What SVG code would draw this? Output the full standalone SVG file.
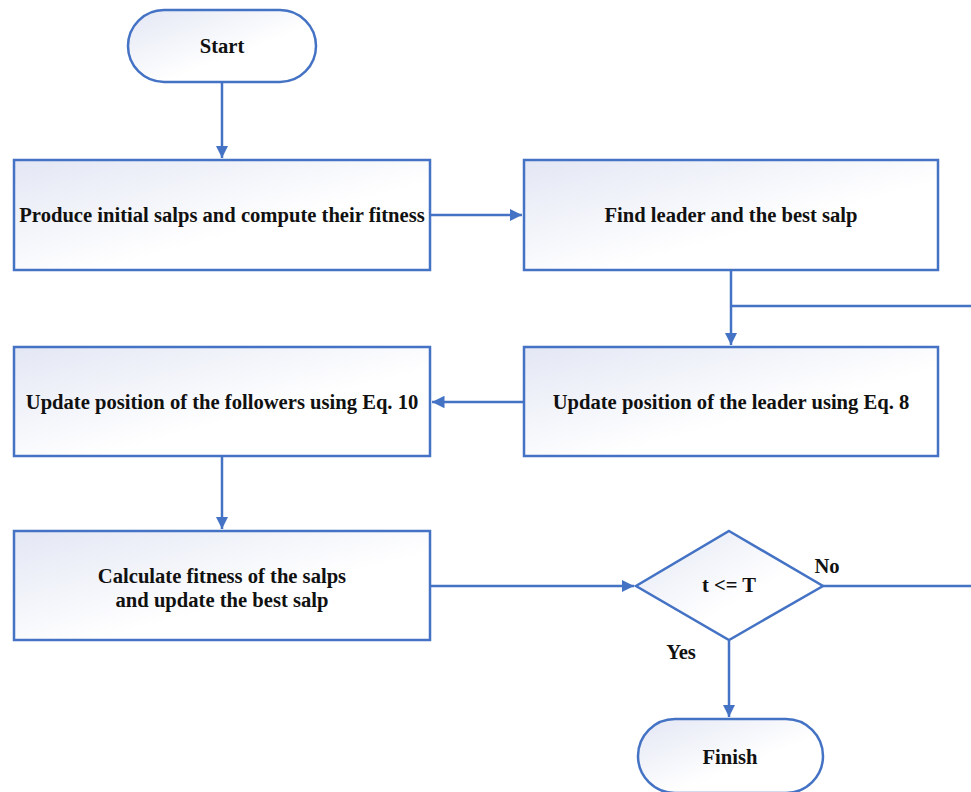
<svg xmlns="http://www.w3.org/2000/svg" width="971" height="792" viewBox="0 0 971 792">
<defs>
<linearGradient id="g" x1="0" y1="0" x2="1" y2="1">
<stop offset="0" stop-color="#e3e7f4"/>
<stop offset="0.6" stop-color="#ffffff"/>
<stop offset="1" stop-color="#ffffff"/>
</linearGradient>
<marker id="ah" viewBox="0 0 10 10" refX="10" refY="5" markerWidth="5" markerHeight="5" orient="auto" markerUnits="strokeWidth">
<path d="M0,0 L10,5 L0,10 z" fill="#4472c4"/>
</marker>
<style>
.n{fill:url(#g);stroke:#4472c4;stroke-width:2.5}
.c{fill:none;stroke:#4472c4;stroke-width:2.5}
.t{font-weight:bold;font-size:20.6px;fill:#111;text-anchor:middle}
</style>
</defs>
<g id="connectors">
<path class="c" d="M222,83 V158" marker-end="url(#ah)"/>
<path class="c" d="M431,215 H522" marker-end="url(#ah)"/>
<path class="c" d="M731,271 V345" marker-end="url(#ah)"/>
<path class="c" d="M731,306 H971"/>
<path class="c" d="M523,402 H432" marker-end="url(#ah)"/>
<path class="c" d="M222,457 V529" marker-end="url(#ah)"/>
<path class="c" d="M431,586 H634" marker-end="url(#ah)"/>
<path class="c" d="M823,586 H971"/>
<path class="c" d="M729,641 V717" marker-end="url(#ah)"/>
</g>
<g font-family="'Liberation Serif', 'Times New Roman', 'DejaVu Serif', serif">
<g id="start"><rect class="n" x="128" y="10" width="188" height="72" rx="36"/><text class="t" x="222" y="53">Start</text></g>
<g id="init"><rect class="n" x="14" y="160" width="416" height="110"/><text class="t" x="222" y="222">Produce initial salps and compute their fitness</text></g>
<g id="leader"><rect class="n" x="524" y="160" width="414" height="110"/><text class="t" x="731" y="222">Find leader and the best salp</text></g>
<g id="updleader"><rect class="n" x="524" y="347" width="414" height="109"/><text class="t" x="731" y="409">Update position of the leader using Eq. 8</text></g>
<g id="updfollow"><rect class="n" x="14" y="347" width="416" height="109"/><text class="t" x="222" y="409">Update position of the followers using Eq. 10</text></g>
<g id="calc"><rect class="n" x="14" y="531" width="416" height="109"/><text class="t" x="222" y="583">Calculate fitness of the salps</text><text class="t" x="222" y="607">and update the best salp</text></g>
<g id="decision"><polygon class="n" points="729,531 823,586 729,640 636,586"/><text class="t" x="729" y="592">t &lt;= T</text></g>
<g id="finish"><rect class="n" x="638" y="719" width="185" height="74" rx="37"/><text class="t" x="730" y="764">Finish</text></g>
<g id="labels"><text class="t" x="827" y="573">No</text><text class="t" x="681" y="659">Yes</text></g>
</g>
</svg>
